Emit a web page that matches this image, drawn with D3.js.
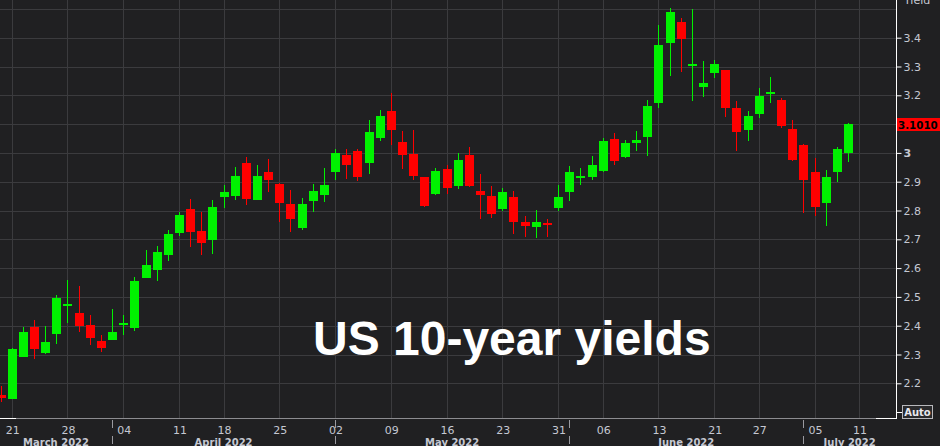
<!DOCTYPE html>
<html><head><meta charset="utf-8">
<script src="https://cdn.jsdelivr.net/npm/d3@7/dist/d3.min.js"></script>
<style>html,body{margin:0;padding:0;background:#202022;overflow:hidden}</style>
</head><body><svg id="c" width="940" height="446"></svg>
<script>
const dates = ["2022-03-18","2022-03-21","2022-03-22","2022-03-23","2022-03-24","2022-03-25","2022-03-28","2022-03-29","2022-03-30","2022-03-31","2022-04-01","2022-04-04","2022-04-05","2022-04-06","2022-04-07","2022-04-08","2022-04-11","2022-04-12","2022-04-13","2022-04-14","2022-04-18","2022-04-19","2022-04-20","2022-04-21","2022-04-22","2022-04-25","2022-04-26","2022-04-27","2022-04-28","2022-04-29","2022-05-02","2022-05-03","2022-05-04","2022-05-05","2022-05-06","2022-05-09","2022-05-10","2022-05-11","2022-05-12","2022-05-13","2022-05-16","2022-05-17","2022-05-18","2022-05-19","2022-05-20","2022-05-23","2022-05-24","2022-05-25","2022-05-26","2022-05-27","2022-05-31","2022-06-01","2022-06-02","2022-06-03","2022-06-06","2022-06-07","2022-06-08","2022-06-09","2022-06-10","2022-06-13","2022-06-14","2022-06-15","2022-06-16","2022-06-17","2022-06-21","2022-06-22","2022-06-23","2022-06-24","2022-06-27","2022-06-28","2022-06-29","2022-06-30","2022-07-01","2022-07-05","2022-07-06","2022-07-07","2022-07-08"];
const axisDates = dates.concat(["2022-07-11"]);
const open  = [2.158,2.146,2.292,2.395,2.306,2.372,2.472,2.444,2.402,2.347,2.351,2.408,2.392,2.566,2.594,2.646,2.721,2.805,2.728,2.698,2.847,2.851,2.964,2.837,2.933,2.891,2.822,2.740,2.833,2.854,2.934,2.994,3.006,2.964,3.051,3.146,3.037,2.995,2.916,2.858,2.943,2.885,2.992,2.867,2.850,2.806,2.846,2.759,2.743,2.756,2.809,2.865,2.913,2.917,2.936,3.048,2.985,3.035,3.056,3.173,3.382,3.454,3.306,3.228,3.278,3.287,3.155,3.080,3.135,3.205,3.183,3.082,3.027,2.933,2.826,2.934,3.000];
const high  = [2.190,2.322,2.395,2.419,2.398,2.506,2.558,2.538,2.437,2.367,2.457,2.436,2.569,2.662,2.676,2.732,2.794,2.840,2.794,2.838,2.888,2.950,2.986,2.957,2.978,2.897,2.870,2.842,2.891,2.947,3.013,3.013,3.013,3.114,3.148,3.207,3.076,3.080,2.918,2.947,2.957,2.999,3.020,2.927,2.885,2.877,2.867,2.780,2.801,2.770,2.888,2.954,2.947,2.989,3.051,3.068,3.044,3.075,3.183,3.443,3.502,3.468,3.499,3.318,3.322,3.289,3.180,3.145,3.225,3.263,3.190,3.114,3.030,2.982,2.940,3.020,3.103];
const low   = [2.135,2.145,2.290,2.283,2.301,2.336,2.411,2.377,2.332,2.309,2.350,2.368,2.381,2.565,2.556,2.625,2.712,2.674,2.645,2.649,2.809,2.837,2.819,2.836,2.865,2.760,2.727,2.732,2.795,2.830,2.906,2.911,2.903,2.926,3.042,3.028,2.944,2.906,2.813,2.853,2.856,2.875,2.883,2.770,2.773,2.799,2.719,2.707,2.705,2.707,2.799,2.833,2.889,2.906,2.933,2.958,2.982,3.006,2.990,3.156,3.266,3.281,3.181,3.194,3.260,3.124,3.007,3.042,3.122,3.174,3.087,2.972,2.792,2.781,2.747,2.899,2.969];
const close = [2.148,2.318,2.377,2.318,2.344,2.495,2.477,2.399,2.358,2.323,2.377,2.411,2.555,2.610,2.655,2.718,2.784,2.726,2.688,2.811,2.864,2.919,2.839,2.919,2.906,2.826,2.771,2.822,2.867,2.888,2.999,2.957,2.917,3.072,3.127,3.080,2.993,2.920,2.815,2.936,2.878,2.975,2.885,2.854,2.788,2.864,2.760,2.747,2.759,2.749,2.846,2.933,2.919,2.957,3.041,2.971,3.034,3.044,3.162,3.374,3.489,3.395,3.310,3.242,3.308,3.156,3.073,3.127,3.197,3.211,3.094,2.976,2.906,2.813,2.916,3.013,3.101];
const weekTicks = ["2022-03-21","2022-03-28","2022-04-04","2022-04-11","2022-04-18","2022-04-25","2022-05-02","2022-05-09","2022-05-16","2022-05-23","2022-05-31","2022-06-06","2022-06-13","2022-06-21","2022-06-27","2022-07-05","2022-07-11"];
const weekLabels = ["21","28","04","11","18","25","02","09","16","23","31","06","13","21","27","05","11"];
const monthStarts = ["2022-04-01","2022-05-02","2022-06-01","2022-07-01"];
const monthLabels = ["March 2022","April 2022","May 2022","June 2022","July 2022"];
const yTicks = [2.2,2.3,2.4,2.5,2.6,2.7,2.8,2.9,3.0,3.1,3.2,3.3,3.4,3.5];
const yLabels = ["2.2","2.3","2.4","2.5","2.6","2.7","2.8","2.9","3","","3.2","3.3","3.4",""];
const lastPrice = "3.1010";
const title = "US 10-year yields";
const axisTitle = "Yield";

const W = 940, H = 446, axisX = 896, axisY = 418;
const svg = d3.select("#c");
svg.append("rect").attr("width",W).attr("height",H).attr("fill","#202022");

const x = d3.scalePoint().domain(axisDates).range([0.55, 859.1]);
const y = d3.scaleLinear().domain([2.2, 3.4]).range([383.3, 37.7]);

const grid = svg.append("g").attr("shape-rendering","crispEdges");
grid.selectAll("line.h").data(yTicks).join("line")
  .attr("x1",0).attr("x2",axisX).attr("y1",d=>Math.round(y(d))+0.5).attr("y2",d=>Math.round(y(d))+0.5)
  .attr("stroke","#3b3b3e").attr("stroke-width",1);
grid.selectAll("line.v").data(weekTicks).join("line")
  .attr("x1",d=>Math.round(x(d))+0.5).attr("x2",d=>Math.round(x(d))+0.5).attr("y1",0).attr("y2",axisY)
  .attr("stroke","#3b3b3e").attr("stroke-width",1);

const data = dates.map((d,i)=>({d, o:open[i], h:high[i], l:low[i], c:close[i]}));
const cg = svg.append("g").attr("shape-rendering","crispEdges");
const candle = cg.selectAll("g").data(data).join("g");
const col = d => d.c >= d.o ? "#00f200" : "#ff0000";
candle.append("line")
  .attr("x1",d=>Math.round(x(d.d))+0.5).attr("x2",d=>Math.round(x(d.d))+0.5)
  .attr("y1",d=>y(d.h)).attr("y2",d=>y(d.l)).attr("stroke",col).attr("stroke-width",1.3);
candle.append("rect")
  .attr("x",d=>Math.round(x(d.d))-4).attr("width",9)
  .attr("y",d=>Math.min(y(d.o),y(d.c)))
  .attr("height",d=>Math.max(2,Math.abs(y(d.o)-y(d.c))))
  .attr("fill",col);

// title
svg.append("text").attr("x",313).attr("y",355).text(title)
  .attr("font-family","'Liberation Sans', Arial, sans-serif").attr("font-weight","bold")
  .attr("font-size",48).attr("fill","#ffffff");

// axes frame
const ax = svg.append("g").attr("shape-rendering","crispEdges");
ax.append("line").attr("x1",0).attr("x2",axisX).attr("y1",axisY+0.5).attr("y2",axisY+0.5).attr("stroke","#8c8c90");
ax.append("line").attr("x1",0).attr("x2",16).attr("y1",axisY+0.5).attr("y2",axisY+0.5).attr("stroke","#ffffff");
ax.append("line").attr("x1",876).attr("x2",axisX).attr("y1",axisY+0.5).attr("y2",axisY+0.5).attr("stroke","#ffffff");
ax.append("line").attr("x1",axisX+0.5).attr("x2",axisX+0.5).attr("y1",0).attr("y2",axisY+1).attr("stroke","#ffffff");

// y axis via d3
const yAxis = d3.axisRight(y).tickValues(yTicks.filter(v=>v<=3.4)).tickSize(5).tickPadding(2)
  .tickFormat((d)=>yLabels[yTicks.indexOf(d)]);
const yg = svg.append("g").attr("transform",`translate(${axisX+0.5},0)`).call(yAxis);
yg.select(".domain").remove();
yg.selectAll(".tick line").attr("stroke","#ffffff");
yg.selectAll(".tick text").attr("fill","#c5c8d2").attr("font-family","'DejaVu Sans', Verdana, sans-serif").attr("font-size",11)
  .attr("font-weight",d=>d===3?"bold":"normal");

svg.append("text").attr("x",904).attr("y",4).text(axisTitle).attr("fill","#c5c8d2")
  .attr("font-family","'DejaVu Sans', Verdana, sans-serif").attr("font-size",11);

// last price label
const py = Math.round(y(close[close.length-1]));
svg.append("rect").attr("x",axisX+1).attr("y",py-6).attr("width",W-axisX).attr("height",13).attr("fill","#ff0000");
svg.append("text").attr("x",axisX+2).attr("y",py+4.5).text(lastPrice)
  .attr("fill","#000").attr("font-weight","bold").attr("font-family","'DejaVu Sans', Verdana, sans-serif").attr("font-size",10.3);

// Auto box
svg.append("line").attr("x1",axisX).attr("x2",902).attr("y1",412.5).attr("y2",412.5).attr("stroke","#fff").attr("shape-rendering","crispEdges");
svg.append("rect").attr("x",902.5).attr("y",405.5).attr("width",30).attr("height",13).attr("fill","#2a2a2c").attr("stroke","#b8b8bc").attr("shape-rendering","crispEdges");
svg.append("text").attr("x",917.5).attr("y",416).attr("text-anchor","middle").text("Auto").attr("fill","#e8e8ee")
  .attr("font-weight","bold").attr("font-family","'DejaVu Sans', Verdana, sans-serif").attr("font-size",10);

// x axis labels
const xg = svg.append("g");
xg.selectAll("text.w").data(weekTicks).join("text")
  .attr("x",d=>x(d)+1).attr("y",434).attr("text-anchor","middle").text((d,i)=>weekLabels[i])
  .attr("fill","#c5c8d2").attr("font-family","'DejaVu Sans', Verdana, sans-serif").attr("font-size",11);
xg.selectAll("line.m").data(monthStarts).join("line")
  .attr("x1",d=>Math.round(x(d))+0.5).attr("x2",d=>Math.round(x(d))+0.5).attr("y1",420).attr("y2",446)
  .attr("stroke","#9a9aa0").attr("shape-rendering","crispEdges").attr("stroke-dasharray","8,8");
const bounds = [0].concat(monthStarts.map(d=>x(d))).concat([axisX]);
xg.selectAll("text.m").data(monthLabels).join("text")
  .attr("x",(d,i)=>(bounds[i]+bounds[i+1])/2).attr("y",446).attr("text-anchor","middle").text(d=>d)
  .attr("fill","#c5c8d2").attr("font-weight","bold").attr("font-family","'DejaVu Sans', Verdana, sans-serif").attr("font-size",10);
</script></body></html>
